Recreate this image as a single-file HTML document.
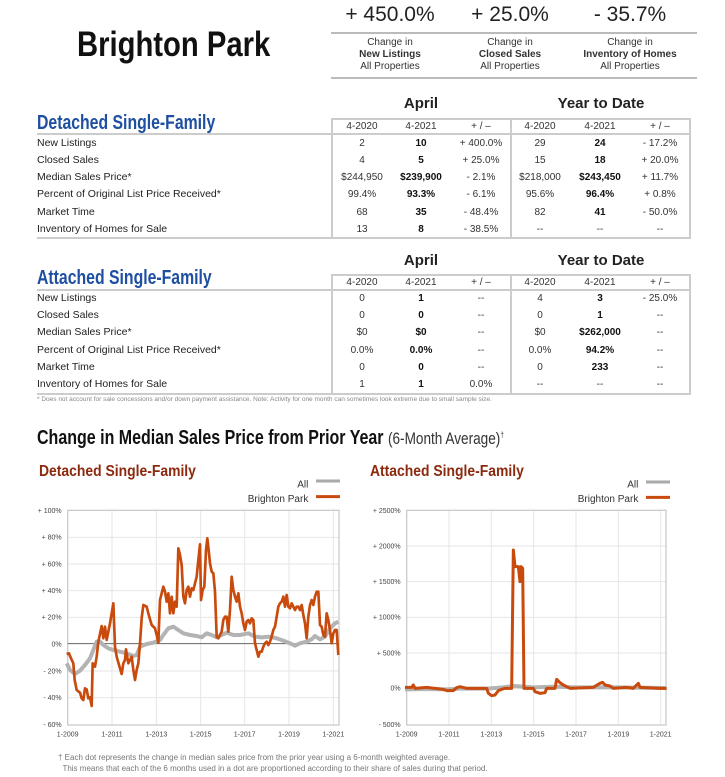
<!DOCTYPE html>
<html><head><meta charset="utf-8">
<style>
body{margin:0;width:725px;height:777px;background:#fff;position:relative;overflow:hidden;font-family:"Liberation Sans",sans-serif;color:#222}
.a{position:absolute;white-space:nowrap}
.sx{transform-origin:0 0}
.big{font-size:21px;top:3px;width:120px;text-align:center}
.sub{font-size:10px;width:120px;text-align:center;line-height:12px;top:37px;color:#333}
.hd{font-size:15px;font-weight:bold}
.box{position:absolute;border:2px solid #ccc;box-sizing:border-box}
.lbl{font-size:10.5px;color:#222;left:37px}
.c{font-size:10px;width:60px;text-align:center;color:#333}
.b{font-weight:bold;color:#111}
.sec{font-size:20px;font-weight:bold;color:#1e4fa0;left:37px;transform:scaleX(0.79);transform-origin:0 0}
</style></head><body>
<div class="a sx" style="left:77px;top:25px;font-size:35px;font-weight:bold;color:#111;transform:scaleX(0.835)">Brighton Park</div>
<div class="a big" style="left:330px">+ 450.0%</div>
<div class="a big" style="left:450px">+ 25.0%</div>
<div class="a big" style="left:570px">- 35.7%</div>
<div class="a" style="left:331px;top:32px;width:366px;height:2px;background:#bbb"></div>
<div class="a" style="left:331px;top:77px;width:366px;height:2px;background:#bbb"></div>
<div class="a sub" style="left:330px">Change in<br><b>New Listings</b><br>All Properties</div>
<div class="a sub" style="left:450px">Change in<br><b>Closed Sales</b><br>All Properties</div>
<div class="a sub" style="left:570px">Change in<br><b>Inventory of Homes</b><br>All Properties</div>

<!-- table 1 -->
<div class="a hd" style="left:391px;top:95px;width:60px;text-align:center">April</div>
<div class="a hd" style="left:541px;top:95px;width:120px;text-align:center">Year to Date</div>
<div class="a sec" style="top:112px">Detached Single-Family</div>
<div class="box" style="left:331px;top:118px;width:360px;height:121px"></div>
<div class="a" style="left:510px;top:118px;width:2px;height:121px;background:#ccc"></div>
<div class="a" style="left:37px;top:133px;width:654px;height:2px;background:#ccc"></div>
<div class="a" style="left:37px;top:237px;width:654px;height:2px;background:#ccc"></div>
<div class="a c" style="left:332px;top:121px">4-2020</div><div class="a c" style="left:391px;top:121px">4-2021</div><div class="a c" style="left:451px;top:121px">+ / –</div>
<div class="a c" style="left:510px;top:121px">4-2020</div><div class="a c" style="left:570px;top:121px">4-2021</div><div class="a c" style="left:630px;top:121px">+ / –</div>

<div class="a lbl" style="top:137px">New Listings</div>
<div class="a lbl" style="top:154px">Closed Sales</div>
<div class="a lbl" style="top:171px">Median Sales Price*</div>
<div class="a lbl" style="top:188px">Percent of Original List Price Received*</div>
<div class="a lbl" style="top:206px">Market Time</div>
<div class="a lbl" style="top:223px">Inventory of Homes for Sale</div>

<div class="a c" style="left:332px;top:138px">2</div><div class="a c b" style="left:391px;top:138px">10</div><div class="a c" style="left:451px;top:138px">+ 400.0%</div><div class="a c" style="left:510px;top:138px">29</div><div class="a c b" style="left:570px;top:138px">24</div><div class="a c" style="left:630px;top:138px">- 17.2%</div>
<div class="a c" style="left:332px;top:155px">4</div><div class="a c b" style="left:391px;top:155px">5</div><div class="a c" style="left:451px;top:155px">+ 25.0%</div><div class="a c" style="left:510px;top:155px">15</div><div class="a c b" style="left:570px;top:155px">18</div><div class="a c" style="left:630px;top:155px">+ 20.0%</div>
<div class="a c" style="left:332px;top:172px">$244,950</div><div class="a c b" style="left:391px;top:172px">$239,900</div><div class="a c" style="left:451px;top:172px">- 2.1%</div><div class="a c" style="left:510px;top:172px">$218,000</div><div class="a c b" style="left:570px;top:172px">$243,450</div><div class="a c" style="left:630px;top:172px">+ 11.7%</div>
<div class="a c" style="left:332px;top:189px">99.4%</div><div class="a c b" style="left:391px;top:189px">93.3%</div><div class="a c" style="left:451px;top:189px">- 6.1%</div><div class="a c" style="left:510px;top:189px">95.6%</div><div class="a c b" style="left:570px;top:189px">96.4%</div><div class="a c" style="left:630px;top:189px">+ 0.8%</div>
<div class="a c" style="left:332px;top:207px">68</div><div class="a c b" style="left:391px;top:207px">35</div><div class="a c" style="left:451px;top:207px">- 48.4%</div><div class="a c" style="left:510px;top:207px">82</div><div class="a c b" style="left:570px;top:207px">41</div><div class="a c" style="left:630px;top:207px">- 50.0%</div>
<div class="a c" style="left:332px;top:224px">13</div><div class="a c b" style="left:391px;top:224px">8</div><div class="a c" style="left:451px;top:224px">- 38.5%</div><div class="a c" style="left:510px;top:224px">--</div><div class="a c" style="left:570px;top:224px">--</div><div class="a c" style="left:630px;top:224px">--</div>

<!-- table 2 -->
<div class="a hd" style="left:391px;top:252px;width:60px;text-align:center">April</div>
<div class="a hd" style="left:541px;top:252px;width:120px;text-align:center">Year to Date</div>
<div class="a sec" style="top:267px">Attached Single-Family</div>
<div class="box" style="left:331px;top:274px;width:360px;height:121px"></div>
<div class="a" style="left:510px;top:274px;width:2px;height:121px;background:#ccc"></div>
<div class="a" style="left:37px;top:289px;width:654px;height:2px;background:#ccc"></div>
<div class="a" style="left:37px;top:393px;width:654px;height:2px;background:#ccc"></div>
<div class="a c" style="left:332px;top:277px">4-2020</div><div class="a c" style="left:391px;top:277px">4-2021</div><div class="a c" style="left:451px;top:277px">+ / –</div>
<div class="a c" style="left:510px;top:277px">4-2020</div><div class="a c" style="left:570px;top:277px">4-2021</div><div class="a c" style="left:630px;top:277px">+ / –</div>

<div class="a lbl" style="top:292px">New Listings</div>
<div class="a lbl" style="top:309px">Closed Sales</div>
<div class="a lbl" style="top:326px">Median Sales Price*</div>
<div class="a lbl" style="top:344px">Percent of Original List Price Received*</div>
<div class="a lbl" style="top:361px">Market Time</div>
<div class="a lbl" style="top:378px">Inventory of Homes for Sale</div>

<div class="a c" style="left:332px;top:293px">0</div><div class="a c b" style="left:391px;top:293px">1</div><div class="a c" style="left:451px;top:293px">--</div><div class="a c" style="left:510px;top:293px">4</div><div class="a c b" style="left:570px;top:293px">3</div><div class="a c" style="left:630px;top:293px">- 25.0%</div>
<div class="a c" style="left:332px;top:310px">0</div><div class="a c b" style="left:391px;top:310px">0</div><div class="a c" style="left:451px;top:310px">--</div><div class="a c" style="left:510px;top:310px">0</div><div class="a c b" style="left:570px;top:310px">1</div><div class="a c" style="left:630px;top:310px">--</div>
<div class="a c" style="left:332px;top:327px">$0</div><div class="a c b" style="left:391px;top:327px">$0</div><div class="a c" style="left:451px;top:327px">--</div><div class="a c" style="left:510px;top:327px">$0</div><div class="a c b" style="left:570px;top:327px">$262,000</div><div class="a c" style="left:630px;top:327px">--</div>
<div class="a c" style="left:332px;top:345px">0.0%</div><div class="a c b" style="left:391px;top:345px">0.0%</div><div class="a c" style="left:451px;top:345px">--</div><div class="a c" style="left:510px;top:345px">0.0%</div><div class="a c b" style="left:570px;top:345px">94.2%</div><div class="a c" style="left:630px;top:345px">--</div>
<div class="a c" style="left:332px;top:362px">0</div><div class="a c b" style="left:391px;top:362px">0</div><div class="a c" style="left:451px;top:362px">--</div><div class="a c" style="left:510px;top:362px">0</div><div class="a c b" style="left:570px;top:362px">233</div><div class="a c" style="left:630px;top:362px">--</div>
<div class="a c" style="left:332px;top:379px">1</div><div class="a c b" style="left:391px;top:379px">1</div><div class="a c" style="left:451px;top:379px">0.0%</div><div class="a c" style="left:510px;top:379px">--</div><div class="a c" style="left:570px;top:379px">--</div><div class="a c" style="left:630px;top:379px">--</div>
<div class="a" style="left:37px;top:396px;font-size:6.5px;color:#888">* Does not account for sale concessions and/or down payment assistance. Note: Activity for one month can sometimes look extreme due to small sample size.</div>

<div class="a sx" style="left:37px;top:427px;font-size:20px;font-weight:bold;color:#111;transform:scaleX(0.8)">Change in Median Sales Price from Prior Year <span style="font-weight:normal;font-size:17px;color:#333">(6-Month Average)<sup style="font-size:8px">†</sup></span></div>

<!-- left chart -->
<svg class="a" style="left:0;top:450px" width="360" height="327" viewBox="0 0 1080 981">
<text transform="translate(117,78) scale(0.87,1)" font-family="Liberation Sans, sans-serif" font-size="48" font-weight="bold" fill="#8b2a0e">Detached Single-Family</text>
<text x="925" y="112" font-family="Liberation Sans" font-size="30" fill="#333" text-anchor="end">All</text>
<line x1="948" y1="93" x2="1020" y2="93" stroke="#aaa" stroke-width="9"/>
<text x="925" y="156" font-family="Liberation Sans" font-size="30" fill="#333" text-anchor="end">Brighton Park</text>
<line x1="948" y1="140" x2="1020" y2="140" stroke="#c84a0c" stroke-width="9"/>
<g stroke="#e6e6e6" stroke-width="3">
<line x1="203" y1="262" x2="1017" y2="262"/><line x1="203" y1="342" x2="1017" y2="342"/><line x1="203" y1="422" x2="1017" y2="422"/><line x1="203" y1="502" x2="1017" y2="502"/><line x1="203" y1="663" x2="1017" y2="663"/><line x1="203" y1="743" x2="1017" y2="743"/>
<line x1="336" y1="181" x2="336" y2="825"/><line x1="469" y1="181" x2="469" y2="825"/><line x1="602" y1="181" x2="602" y2="825"/><line x1="734" y1="181" x2="734" y2="825"/><line x1="867" y1="181" x2="867" y2="825"/><line x1="1000" y1="181" x2="1000" y2="825"/>
</g>
<rect x="203" y="181" width="814" height="644" fill="none" stroke="#ccc" stroke-width="4"/>
<line x1="203" y1="581" x2="1017" y2="581" stroke="#666" stroke-width="3"/>
<g font-family="Liberation Sans" font-size="21" fill="#444" text-anchor="end">
<text x="185" y="189">+ 100%</text><text x="185" y="269">+ 80%</text><text x="185" y="349">+ 60%</text><text x="185" y="429">+ 40%</text><text x="185" y="509">+ 20%</text><text x="185" y="589">0%</text><text x="185" y="670">- 20%</text><text x="185" y="750">- 40%</text><text x="185" y="831">- 60%</text>
</g>
<g font-family="Liberation Sans" font-size="21" fill="#444" text-anchor="middle">
<text x="203" y="860">1-2009</text><text x="336" y="860">1-2011</text><text x="469" y="860">1-2013</text><text x="602" y="860">1-2015</text><text x="734" y="860">1-2017</text><text x="867" y="860">1-2019</text><text x="1000" y="860">1-2021</text>
</g>
<polyline fill="none" stroke="#b3b3b3" stroke-width="12" stroke-linejoin="round" points="200,640 210,660 225,672 240,662 255,645 270,625 280,600 290,575 300,575 310,585 325,595 340,600 360,605 380,610 400,618 410,615 420,590 440,582 460,578 480,570 490,555 505,535 520,530 535,540 550,550 570,555 590,558 605,562 620,550 635,555 650,562 665,555 680,548 700,555 720,555 745,550 765,560 785,562 810,560 830,565 850,572 870,580 885,587 900,580 920,575 935,568 945,558 960,568 975,560 990,535 1005,520 1015,515"/>
<polyline fill="none" stroke="#c84a0c" stroke-width="8" stroke-linejoin="round" points="200,612 207,610 213,625 220,640 224,690 230,720 240,728 245,745 250,750 255,715 260,718 265,745 270,742 275,768 278,640 285,650 290,620 295,575 305,528 310,565 315,530 320,570 325,545 330,520 335,490 340,460 345,590 350,620 360,655 365,672 370,640 375,630 378,598 385,640 390,630 395,620 400,660 405,690 410,660 415,640 420,580 425,505 430,465 440,470 445,490 455,525 465,535 470,555 475,578 480,450 490,410 495,425 500,455 505,430 510,490 515,440 520,490 525,455 530,470 535,295 540,315 545,345 550,440 555,460 560,420 565,410 570,440 575,415 580,420 585,400 590,380 595,330 600,283 603,450 608,420 613,410 618,300 622,265 627,310 630,340 635,365 640,370 645,425 650,560 655,565 660,555 665,545 670,510 675,500 680,500 685,545 690,480 695,380 700,420 705,440 710,455 715,430 720,470 725,490 730,520 735,540 740,515 745,510 750,520 755,505 760,510 765,580 770,600 775,620 780,605 785,605 790,590 795,580 800,575 805,585 810,575 815,560 820,540 825,530 830,500 835,470 840,460 845,455 850,440 855,470 860,435 865,470 870,475 875,460 880,470 885,480 890,470 895,470 900,480 905,465 910,495 915,520 920,565 925,500 930,465 935,450 940,465 945,440 950,425 955,425 960,525 965,530 970,555 975,560 980,490 985,510 990,540 995,580 1000,550 1005,540 1010,540 1015,615"/>
</svg>

<!-- right chart -->
<svg class="a" style="left:360px;top:450px" width="365" height="327" viewBox="0 0 1095 981">
<text transform="translate(30,78) scale(0.87,1)" font-family="Liberation Sans, sans-serif" font-size="48" font-weight="bold" fill="#8b2a0e">Attached Single-Family</text>
<text x="835" y="112" font-family="Liberation Sans" font-size="30" fill="#333" text-anchor="end">All</text>
<line x1="858" y1="96" x2="930" y2="96" stroke="#aaa" stroke-width="9"/>
<text x="835" y="156" font-family="Liberation Sans" font-size="30" fill="#333" text-anchor="end">Brighton Park</text>
<line x1="858" y1="142" x2="930" y2="142" stroke="#c84a0c" stroke-width="9"/>
<g stroke="#e6e6e6" stroke-width="3">
<line x1="140" y1="288" x2="918" y2="288"/><line x1="140" y1="395" x2="918" y2="395"/><line x1="140" y1="502" x2="918" y2="502"/><line x1="140" y1="609" x2="918" y2="609"/><line x1="140" y1="715" x2="918" y2="715"/>
<line x1="267" y1="181" x2="267" y2="825"/><line x1="394" y1="181" x2="394" y2="825"/><line x1="521" y1="181" x2="521" y2="825"/><line x1="648" y1="181" x2="648" y2="825"/><line x1="775" y1="181" x2="775" y2="825"/><line x1="902" y1="181" x2="902" y2="825"/>
</g>
<rect x="140" y="181" width="778" height="644" fill="none" stroke="#ccc" stroke-width="4"/>
<g font-family="Liberation Sans" font-size="21" fill="#444" text-anchor="end">
<text x="122" y="189">+ 2500%</text><text x="122" y="295">+ 2000%</text><text x="122" y="402">+ 1500%</text><text x="122" y="509">+ 1000%</text><text x="122" y="616">+ 500%</text><text x="122" y="722">0%</text><text x="122" y="831">- 500%</text>
</g>
<g font-family="Liberation Sans" font-size="21" fill="#444" text-anchor="middle">
<text x="140" y="860">1-2009</text><text x="267" y="860">1-2011</text><text x="394" y="860">1-2013</text><text x="521" y="860">1-2015</text><text x="648" y="860">1-2017</text><text x="775" y="860">1-2019</text><text x="902" y="860">1-2021</text>
</g>
<polyline fill="none" stroke="#b3b3b3" stroke-width="12" stroke-linejoin="round" points="135,718 200,717 260,718 300,716 380,716 430,712 460,708 490,710 520,712 590,710 640,712 700,712 760,712 918,714"/>
<polyline fill="none" stroke="#c84a0c" stroke-width="9" stroke-linejoin="round" points="135,712 155,712 160,705 165,715 200,712 250,718 260,722 280,722 290,713 300,710 320,715 340,715 380,715 385,730 395,737 405,735 415,722 425,718 435,715 455,715 460,300 465,350 475,350 480,395 483,350 488,355 492,715 520,715 525,725 540,730 555,728 560,715 585,715 590,688 600,698 610,705 620,710 630,715 700,712 720,700 728,697 735,705 750,708 760,715 800,712 820,715 835,700 840,712 900,715 920,715"/>
</svg>

<div class="a" style="left:58px;top:752px;font-size:8px;color:#777;line-height:11px">† Each dot represents the change in median sales price from the prior year using a 6-month weighted average.<br>&nbsp;&nbsp;This means that each of the 6 months used in a dot are proportioned according to their share of sales during that period.</div>
</body></html>
